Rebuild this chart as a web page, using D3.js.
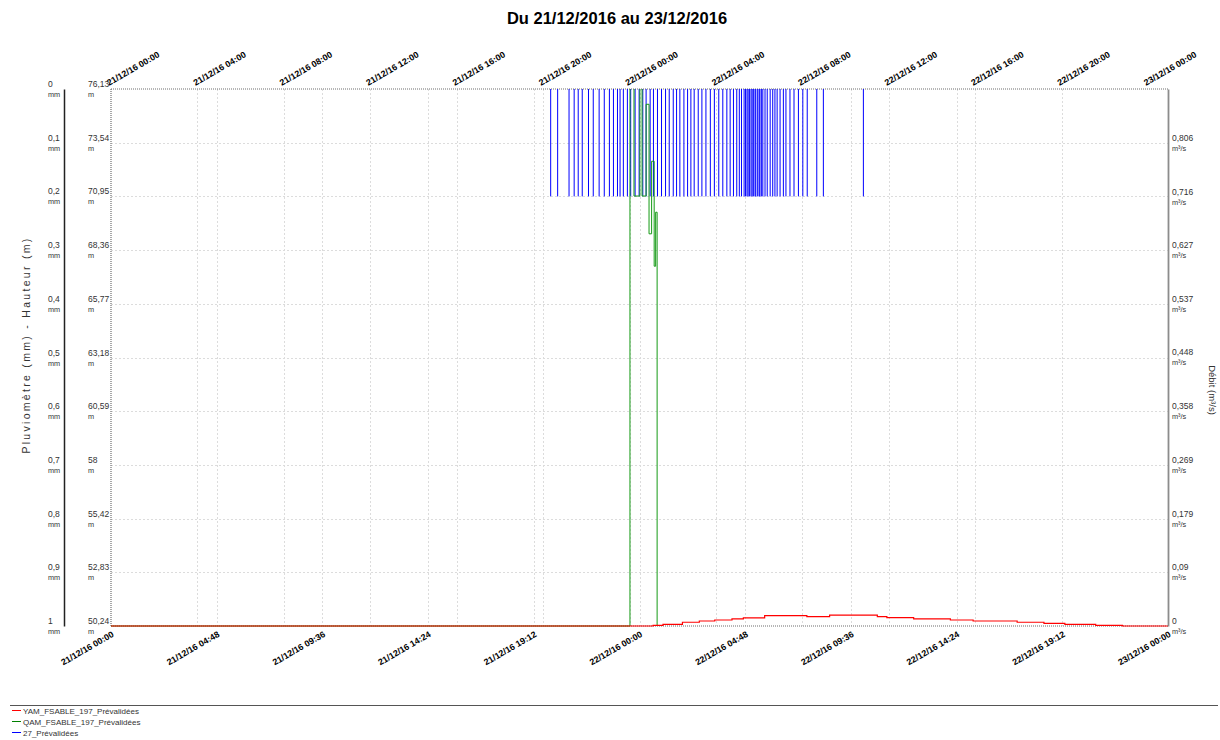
<!DOCTYPE html>
<html lang="fr">
<head>
<meta charset="utf-8">
<script src="https://cdn.jsdelivr.net/npm/d3@7"></script>
<style>
  html, body { margin: 0; padding: 0; background: #fff; }
  svg { display: block; font-family: "Liberation Sans", Arial, sans-serif; }
</style>
</head>
<body>
<svg id="chart" width="1220" height="740"></svg>
<script>
// ---- Data -------------------------------------------------------------
const periodStart = "21/12/16 00:00";
const periodEnd = "23/12/16 00:00";

// Tick labels of the two time axes
const topTicks = ["21/12/16 00:00", "21/12/16 04:00", "21/12/16 08:00", "21/12/16 12:00",
  "21/12/16 16:00", "21/12/16 20:00", "22/12/16 00:00", "22/12/16 04:00", "22/12/16 08:00",
  "22/12/16 12:00", "22/12/16 16:00", "22/12/16 20:00", "23/12/16 00:00"];
const bottomTicks = ["21/12/16 00:00", "21/12/16 04:48", "21/12/16 09:36", "21/12/16 14:24",
  "21/12/16 19:12", "22/12/16 00:00", "22/12/16 04:48", "22/12/16 09:36", "22/12/16 14:24",
  "22/12/16 19:12", "23/12/16 00:00"];

// Value axes
const rainTicks = [0, 0.1, 0.2, 0.3, 0.4, 0.5, 0.6, 0.7, 0.8, 0.9, 1];
const heightTicks = [76.13, 73.54, 70.95, 68.36, 65.77, 63.18, 60.59, 58, 55.42, 52.83, 50.24];
const flowTicks = [0.806, 0.716, 0.627, 0.537, 0.448, 0.358, 0.269, 0.179, 0.09, 0];
const flowMax = 0.8955;

// 27_Prévalidées : rain gauge tips (mm each)
const rainTip = 0.2;
const rainTimes = [
  "21/12/16 19:58", "21/12/16 20:17", "21/12/16 20:48", "21/12/16 21:02", "21/12/16 21:13",
  "21/12/16 21:24", "21/12/16 21:41", "21/12/16 21:54", "21/12/16 22:10", "21/12/16 22:24",
  "21/12/16 22:38", "21/12/16 22:49", "21/12/16 23:00", "21/12/16 23:07", "21/12/16 23:16",
  "21/12/16 23:27", "21/12/16 23:36", "21/12/16 23:48", "21/12/16 23:59",
  "22/12/16 00:09", "22/12/16 00:18", "22/12/16 00:29", "22/12/16 00:38", "22/12/16 00:49",
  "22/12/16 01:00", "22/12/16 01:11", "22/12/16 01:21", "22/12/16 01:32", "22/12/16 01:41",
  "22/12/16 01:50", "22/12/16 02:01", "22/12/16 02:11", "22/12/16 02:20", "22/12/16 02:29",
  "22/12/16 02:40", "22/12/16 02:50", "22/12/16 03:01", "22/12/16 03:13", "22/12/16 03:24",
  "22/12/16 03:36", "22/12/16 03:47", "22/12/16 03:58", "22/12/16 04:07", "22/12/16 04:16",
  "22/12/16 04:25", "22/12/16 04:32", "22/12/16 04:38", "22/12/16 04:45", "22/12/16 04:49",
  "22/12/16 04:53", "22/12/16 04:56", "22/12/16 05:00", "22/12/16 05:04", "22/12/16 05:07",
  "22/12/16 05:11", "22/12/16 05:15", "22/12/16 05:17", "22/12/16 05:22", "22/12/16 05:26",
  "22/12/16 05:28", "22/12/16 05:32", "22/12/16 05:36", "22/12/16 05:42", "22/12/16 05:48",
  "22/12/16 05:56", "22/12/16 06:03", "22/12/16 06:09", "22/12/16 06:15", "22/12/16 06:23",
  "22/12/16 06:32", "22/12/16 06:39", "22/12/16 06:50", "22/12/16 07:01", "22/12/16 07:13",
  "22/12/16 07:25", "22/12/16 07:37", "22/12/16 08:03", "22/12/16 08:21", "22/12/16 10:10"];

// QAM_FSABLE_197_Prévalidées : discharge (m³/s), stepped
const flowTimes = ["21/12/16 00:00", "21/12/16 23:34", "21/12/16 23:45", "22/12/16 00:01",
  "22/12/16 00:07", "22/12/16 00:18", "22/12/16 00:26", "22/12/16 00:33", "22/12/16 00:40",
  "22/12/16 00:44", "22/12/16 00:48"];
const flowValues = [0, 1.2, 0.717, 1.2, 0.717, 0.870, 0.654, 0.775, 0.600, 0.690, 0];

// YAM_FSABLE_197_Prévalidées : water level (m), stepped
const heightTimes = ["21/12/16 00:00", "22/12/16 00:37", "22/12/16 01:04", "22/12/16 01:57",
  "22/12/16 02:43", "22/12/16 03:25", "22/12/16 04:12", "22/12/16 04:43", "22/12/16 05:41",
  "22/12/16 07:36", "22/12/16 08:38", "22/12/16 10:48", "22/12/16 11:14", "22/12/16 12:27",
  "22/12/16 14:07", "22/12/16 15:09", "22/12/16 17:09", "22/12/16 18:22", "22/12/16 19:19",
  "22/12/16 20:43", "22/12/16 21:56", "23/12/16 00:00"];
const heightValues = [50.24, 50.27, 50.32, 50.42, 50.48, 50.53, 50.58, 50.63, 50.74, 50.69,
  50.76, 50.69, 50.64, 50.58, 50.53, 50.48, 50.42, 50.37, 50.32, 50.27, 50.24, 50.24];

const legendItems = [
  { name: "YAM_FSABLE_197_Prévalidées", color: "#ff0000" },
  { name: "QAM_FSABLE_197_Prévalidées", color: "#008000" },
  { name: "27_Prévalidées", color: "#0000ff" }
];

// ---- Helpers ------------------------------------------------------------
const parse = d3.timeParse("%d/%m/%y %H:%M");
const fmtTime = d3.timeFormat("%d/%m/%y %H:%M");
const frNum = v => String(v).replace(".", ",");

const plot = { left: 111, right: 1168, top: 89, bottom: 626 };

const svg = d3.select("#chart");

// ---- Scales -------------------------------------------------------------
const timeDomain = [parse(periodStart), parse(periodEnd)];
const x = d3.scaleTime().domain(timeDomain).range([plot.left, plot.right]);
const xTop = d3.scaleTime().domain(timeDomain).range([plot.left, 1148]);
const yRain = d3.scaleLinear().domain([0, 1]).range([plot.top, plot.bottom]);
const yHeight = d3.scaleLinear().domain([50.24, 76.13]).range([plot.bottom, plot.top]);
const yFlow = d3.scaleLinear().domain([0, flowMax]).range([plot.bottom, plot.top]);

// ---- Title ----------------------------------------------------------------
svg.append("text")
  .attr("x", 617).attr("y", 24)
  .attr("text-anchor", "middle")
  .style("font-size", "16.5px").style("font-weight", "bold")
  .text("Du 21/12/2016 au 23/12/2016");

// ---- Grid -----------------------------------------------------------------
const grid = svg.append("g")
  .attr("stroke", "#dcdcdc").attr("stroke-dasharray", "2,2").attr("stroke-width", 1);

grid.selectAll(".hgrid")
  .data(rainTicks.filter(v => v > 0 && v < 1))
  .join("line")
  .attr("x1", plot.left).attr("x2", plot.right)
  .attr("y1", d => Math.round(yRain(d)) + 0.5).attr("y2", d => Math.round(yRain(d)) + 0.5);

grid.selectAll(".vgridB")
  .data(bottomTicks.slice(1, -1).map(parse))
  .join("line")
  .attr("x1", d => Math.round(x(d)) + 0.5).attr("x2", d => Math.round(x(d)) + 0.5)
  .attr("y1", plot.top).attr("y2", plot.bottom);

grid.selectAll(".vgridT")
  .data(topTicks.slice(1, -1).map(parse))
  .join("line")
  .attr("x1", d => Math.round(xTop(d)) + 0.5).attr("x2", d => Math.round(xTop(d)) + 0.5)
  .attr("y1", plot.top).attr("y2", plot.bottom);

// ---- Plot frame (dotted) -------------------------------------------------
const frame = svg.append("g")
  .attr("stroke", "#6e6e6e").attr("stroke-dasharray", "1,1").attr("stroke-width", 1.2)
  .attr("fill", "none");
frame.append("line").attr("x1", plot.left).attr("x2", plot.right)
  .attr("y1", plot.top).attr("y2", plot.top);
frame.append("line").attr("x1", plot.left).attr("x2", plot.left)
  .attr("y1", plot.top).attr("y2", plot.bottom);
frame.append("line").attr("x1", plot.left).attr("x2", plot.right)
  .attr("y1", plot.bottom).attr("y2", plot.bottom);

// ---- Clip -----------------------------------------------------------------
svg.append("clipPath").attr("id", "plotClip")
  .append("rect")
  .attr("x", plot.left).attr("y", plot.top)
  .attr("width", plot.right - plot.left).attr("height", plot.bottom - plot.top + 2);

const series = svg.append("g").attr("clip-path", "url(#plotClip)");

// Rain tips: one impulse per 0.2 mm
series.append("g")
  .attr("stroke", "#0000ff").attr("stroke-width", 1)
  .selectAll("line")
  .data(rainTimes.map(parse))
  .join("line")
  .attr("x1", d => x(d)).attr("x2", d => x(d))
  .attr("y1", yRain(0)).attr("y2", yRain(rainTip));

// Discharge (stepped)
const flowData = flowTimes.map((t, i) => ({ t: parse(t), v: flowValues[i] }));
series.append("path")
  .datum(flowData)
  .attr("fill", "none").attr("stroke", "#159a15").attr("stroke-width", 1)
  .attr("d", d3.line().curve(d3.curveStepAfter).x(d => x(d.t)).y(d => yFlow(d.v)));

// Water level (stepped)
const heightData = heightTimes.map((t, i) => ({ t: parse(t), v: heightValues[i] }));
series.append("path")
  .datum(heightData)
  .attr("fill", "none").attr("stroke", "#ff0000").attr("stroke-width", 1.2)
  .attr("d", d3.line().curve(d3.curveStepAfter).x(d => x(d.t)).y(d => yHeight(d.v)));

// ---- Time axes -------------------------------------------------------------
const topAxis = svg.append("g")
  .attr("transform", `translate(0,${plot.top})`)
  .call(d3.axisTop(xTop).tickValues(topTicks.map(parse)).tickFormat(fmtTime)
    .tickSize(0).tickPadding(0));
topAxis.select(".domain").remove();
topAxis.selectAll("text")
  .attr("x", 0).attr("y", 0).attr("dy", 0)
  .attr("text-anchor", "start")
  .attr("transform", "translate(-2.5,-3) rotate(-30)")
  .style("font-size", "8.8px").style("font-weight", "bold").attr("fill", "#000");

const bottomAxis = svg.append("g")
  .attr("transform", `translate(0,${plot.bottom})`)
  .call(d3.axisBottom(x).tickValues(bottomTicks.map(parse)).tickFormat(fmtTime)
    .tickSize(0).tickPadding(0));
bottomAxis.select(".domain").remove();
bottomAxis.selectAll("text")
  .attr("x", 0).attr("y", 0).attr("dy", 0)
  .attr("text-anchor", "end")
  .attr("transform", "translate(3,10) rotate(-30)")
  .style("font-size", "8.8px").style("font-weight", "bold").attr("fill", "#000");

// ---- Value axes -------------------------------------------------------------
function styleValueAxis(g, dx, unit) {
  g.selectAll(".tick text")
    .attr("x", dx).attr("y", -2.5).attr("dy", 0)
    .attr("text-anchor", "start")
    .style("font-size", "8.5px").attr("fill", "#333");
  g.selectAll(".tick").append("text")
    .attr("x", dx).attr("y", 7.5)
    .attr("text-anchor", "start")
    .style("font-size", "7.3px").attr("fill", "#333")
    .text(unit);
}

// Pluviomètre (mm), inverted
const rainAxis = svg.append("g")
  .attr("transform", "translate(64,0)")
  .call(d3.axisLeft(yRain).tickValues(rainTicks).tickFormat(frNum).tickSize(0).tickSizeOuter(0));
rainAxis.select(".domain").attr("stroke", "#222").attr("stroke-width", 1.5);
styleValueAxis(rainAxis, -16, "mm");

// Hauteur (m)
const heightAxis = svg.append("g")
  .attr("transform", `translate(${plot.left},0)`)
  .call(d3.axisLeft(yHeight).tickValues(heightTicks).tickFormat(frNum).tickSize(0).tickSizeOuter(0));
heightAxis.select(".domain").remove();
styleValueAxis(heightAxis, -23, "m");

// Débit (m³/s)
const flowAxis = svg.append("g")
  .attr("transform", `translate(${plot.right},0)`)
  .call(d3.axisRight(yFlow).tickValues(flowTicks).tickFormat(frNum).tickSize(0).tickSizeOuter(0));
flowAxis.select(".domain").attr("stroke", "#8c8c8c").attr("stroke-width", 1.8);
styleValueAxis(flowAxis, 4, "m³/s");

// Axis titles
svg.append("text")
  .attr("transform", "translate(30,345) rotate(-90)")
  .attr("text-anchor", "middle")
  .style("font-size", "10.5px").style("letter-spacing", "2.3px").attr("fill", "#333")
  .text("Pluviomètre (mm) - Hauteur (m)");
svg.append("text")
  .attr("transform", "translate(1209,390) rotate(90)")
  .attr("text-anchor", "middle")
  .style("font-size", "9.5px").attr("fill", "#333")
  .text("Débit (m³/s)");

// ---- Legend ----------------------------------------------------------------
svg.append("line")
  .attr("x1", 10).attr("x2", 1218).attr("y1", 705.5).attr("y2", 705.5)
  .attr("stroke", "#555").attr("stroke-width", 1);

const legend = svg.append("g").selectAll("g")
  .data(legendItems)
  .join("g")
  .attr("transform", (d, i) => `translate(12,${710.5 + i * 11})`);
legend.append("line")
  .attr("x1", 0).attr("x2", 9).attr("y1", 0).attr("y2", 0)
  .attr("stroke", d => d.color).attr("stroke-width", 1);
legend.append("text")
  .attr("x", 11).attr("y", 3)
  .style("font-size", "8px").attr("fill", "#333")
  .text(d => d.name);
</script>
</body>
</html>
